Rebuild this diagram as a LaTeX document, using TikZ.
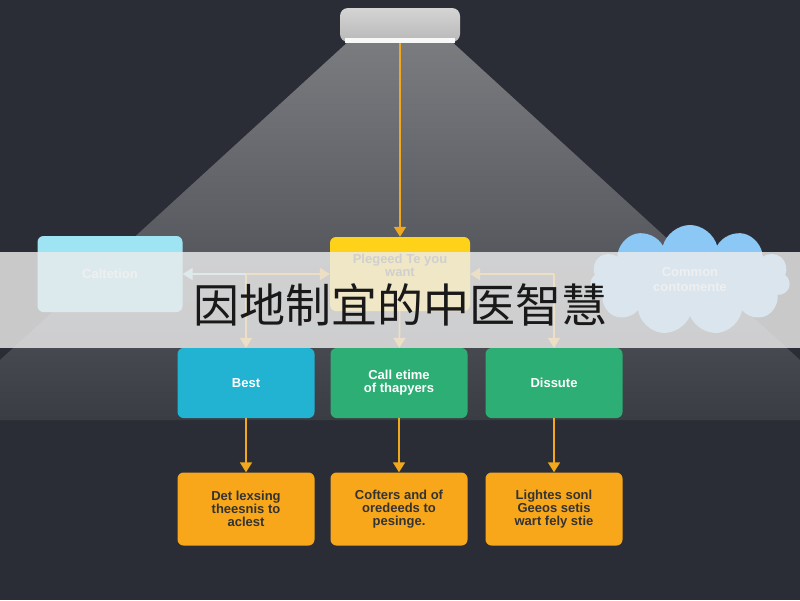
\documentclass[tikz,border=0pt]{standalone}
\usepackage{fontspec}
\setmainfont{Liberation Sans}
\newfontfamily\cjk{Noto Sans CJK SC}
\usetikzlibrary{arrows.meta,shapes,positioning}
\definecolor{bgdark}{HTML}{2A2D35}
\definecolor{conegray}{HTML}{7A7C80}
\definecolor{lampgray}{HTML}{B8B8B8}
\definecolor{arroworange}{HTML}{F2A81C}
\definecolor{boxyellow}{HTML}{FFD21A}
\definecolor{boxcyan}{HTML}{22B2D2}
\definecolor{boxlight}{HTML}{9EE4F2}
\definecolor{boxgreen}{HTML}{2DAE74}
\definecolor{boxorange}{HTML}{F7A719}
\definecolor{cloudblue}{HTML}{8CC8F5}
\begin{document}
\begin{tikzpicture}
    [   x=1pt, y=-1pt,
        > = {Triangle[width=12pt,length=10pt]},
        box/.style = {rounded corners=6pt, minimum width=137pt, minimum height=70pt,
                      align=center, font=\bfseries\fontsize{13}{13}\selectfont},
        flow/.style = {->, draw=arroworange, line width=1.6pt}
    ]
    \useasboundingbox (0,0) rectangle (800,600);
    % Background
    \fill[bgdark] (0,0) rectangle (800,600);
    % Light cone
    \shade[top color=conegray, bottom color=bgdark!80!conegray] (350,40) -- (450,40) -- (800,360) -- (800,420) -- (0,420) -- (0,360) -- cycle;
    % Lamp
    \shade[top color=lampgray!60, bottom color=lampgray, rounded corners=8pt] (340,8) rectangle (460,42);
    \fill[white!90!lampgray] (345,38) rectangle (455,43);
    \coordinate (lamp) at (400,43);
    % Top row
    \node[box, fill=boxyellow, text=black!70, minimum width=140pt, minimum height=74pt, text depth=18pt] (need) at (400,274) {Plegeed Te you\\want};
    \node[box, fill=boxlight, text=white, minimum width=145pt, minimum height=76pt] (left) at (110,274) {Caltetion};
    \node[cloud, cloud puffs=11, aspect=1.9, fill=cloudblue, text=white, minimum width=200pt, minimum height=110pt, align=center, font=\bfseries\fontsize{13}{15}\selectfont] (cloud) at (690,280) {Common\\contomente};
    % Middle row
    \node[box, fill=boxcyan, text=white] (best) at (246,383) {Best};
    \node[box, fill=boxgreen, text=white] (call) at (399,383) {Call etime\\of thapyers};
    \node[box, fill=boxgreen, text=white] (dissute) at (554,383) {Dissute};
    % Bottom row
    \node[box, fill=boxorange, text=black!80, minimum height=73pt] (del) at (246,509) {Det lexsing\\theesnis to\\aclest};
    \node[box, fill=boxorange, text=black!80, minimum height=73pt] (cof) at (399,509) {Cofters and of\\oredeeds to\\pesinge.};
    \node[box, fill=boxorange, text=black!80, minimum height=73pt] (lig) at (554,509) {Lightes sonl\\Geeos setis\\wart fely stie};
    % Connectors
    \coordinate (lc) at (246,274);
    \coordinate (rc) at (554,274);
    \draw[flow] (lamp) -- (need);
    \draw[flow] (lc) -- (need.west);
    \draw[flow] (lc) -- (best);
    \draw[flow] (rc) -- (need.east);
    \draw[flow] (rc) -- (dissute);
    \draw[flow] (need) -- (call);
    \draw[->, draw=boxlight, line width=1.6pt] (lc) -- (left.east);
    \draw[flow] (best) -- (del);
    \draw[flow] (call) -- (cof);
    \draw[flow] (dissute) -- (lig);
    % Banner
    \fill[white!85!gray, opacity=0.82] (0,252) rectangle (800,348);
    \node[font=\cjk\fontsize{46}{50}\selectfont, text=black!90] (title) at (400,305) {因地制宜的中医智慧};
\end{tikzpicture}
\end{document}
